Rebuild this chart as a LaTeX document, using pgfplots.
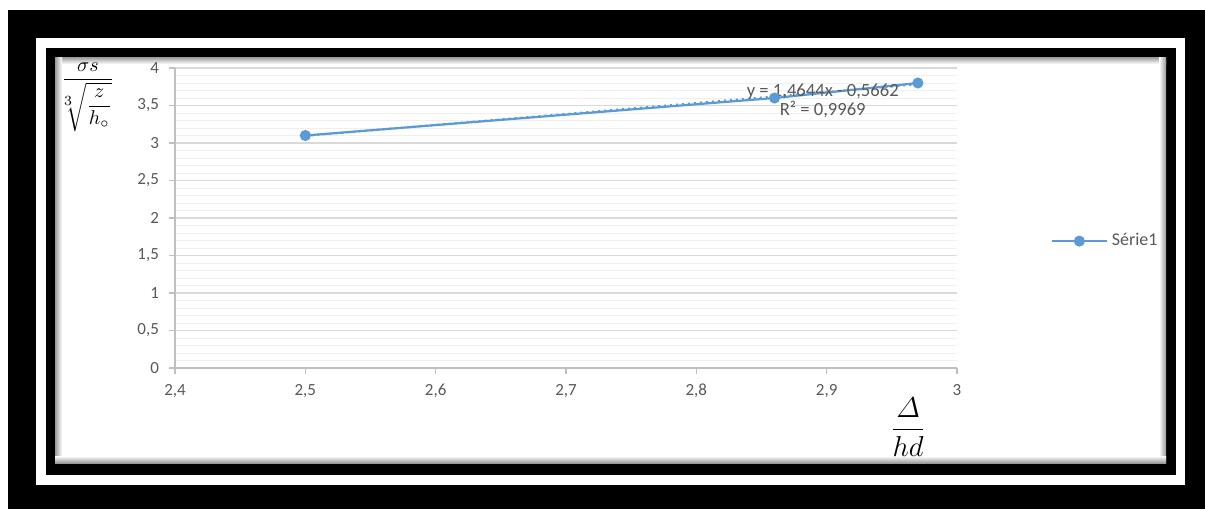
\documentclass[border=0pt]{standalone}
\usepackage{amsmath}
\usepackage[no-math]{fontspec}
\setmainfont{Carlito}
\usepackage{pgfplots}
\pgfplotsset{compat=1.18}
\definecolor{exblue}{HTML}{5B9BD5}
\definecolor{txtgray}{HTML}{595959}
\definecolor{gridmaj}{HTML}{D9D9D9}
\definecolor{gridmin}{HTML}{EFEFEF}
\definecolor{axgray}{HTML}{BFBFBF}
\definecolor{labcol}{HTML}{101A3A}
\newsavebox{\ylabbox}
\newsavebox{\xlabbox}
\begin{document}
\sbox{\ylabbox}{\normalsize$\displaystyle\frac{\sigma s}{{}^{3}\!\!\sqrt{\displaystyle\frac{z}{h_{\circ}}}}$}%
\sbox{\xlabbox}{\Large$\displaystyle\frac{\varDelta}{hd}$}%
\begin{tikzpicture}
\begin{scope}[x=0.5pt,y=-0.5pt]
\fill[white] (0,0) rectangle (1205,509);
\fill[black] (8,10) rectangle (1205,509);
\fill[white] (36,38) rectangle (1185,485);
\fill[black] (46,48) rectangle (1176,475);
\fill[white] (55,57) rectangle (1166,463);
\shade[top color=gray!80, bottom color=white] (55,57) rectangle (1166,64);
\shade[left color=gray!80, right color=white] (55,57) rectangle (62,463);
\shade[left color=white, right color=gray!80] (1159,57) rectangle (1166,463);
\shade[top color=white, bottom color=gray!80] (55,456) rectangle (1166,463);
\end{scope}
\node[color=labcol] at (44pt,-48.5pt) {\usebox{\ylabbox}};
\node[color=labcol] at (454pt,-213.5pt) {\usebox{\xlabbox}};
\begin{axis}[
  at={(87.5pt,-184pt)}, anchor=south west,
  scale only axis, width=391pt, height=150pt,
  xmin=2.4, xmax=3, ymin=0, ymax=4,
  xtick={2.4,2.5,2.6,2.7,2.8,2.9,3},
  ytick={0,0.5,1,1.5,2,2.5,3,3.5,4},
  minor y tick num=4,
  ymajorgrids, yminorgrids,
  major grid style={gridmaj, line width=0.6pt},
  minor grid style={gridmin, line width=0.5pt},
  axis x line*=bottom, axis y line*=left,
  axis line style={axgray, line width=0.6pt, -},
  tick style={axgray, line width=0.6pt},
  tick align=outside, major tick length=3pt, minor tick length=0pt,
  ticklabel style={font=\fontsize{8.5}{10}\selectfont, text=txtgray},
  xticklabel style={yshift=-1.5pt},
  yticklabel style={xshift=-1.5pt},
  legend style={at={(1.112,0.423)}, anchor=west, draw=none, fill=none,
    font=\fontsize{9}{10}\selectfont, text=txtgray},
  legend image code/.code={\draw[mark repeat=2,mark phase=2] plot coordinates {(0cm,0cm)(0.48cm,0cm)(0.96cm,0cm)};},
  /pgf/number format/use comma,
  /pgf/number format/assume math mode=true,
]
\addplot[exblue, dotted, line width=1pt, forget plot] coordinates {(2.5,3.095) (2.97,3.783)};
\addplot[exblue, line width=1.1pt, mark=*, mark size=2.2pt, mark options={fill=exblue, draw=exblue, solid}] coordinates {(2.5,3.1) (2.86,3.6) (2.97,3.8)};
\addlegendentry{Série1}
\node[font=\fontsize{9.3}{10}\selectfont, text=txtgray] at (axis cs:2.897,3.69) {y = 1,4644x - 0,5662};
\node[font=\fontsize{9.3}{10}\selectfont, text=txtgray] at (axis cs:2.897,3.45) {R² = 0,9969};
\end{axis}
\end{tikzpicture}
\end{document}
